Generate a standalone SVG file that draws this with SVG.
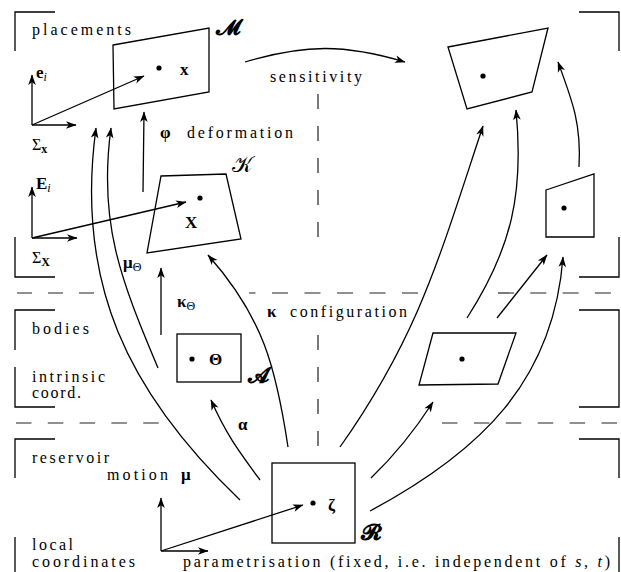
<svg xmlns="http://www.w3.org/2000/svg" width="621" height="572" viewBox="0 0 621 572">
<defs>
<marker id="ah" viewBox="-11 -4.5 12 9" markerWidth="12" markerHeight="9" refX="0" refY="0" orient="auto" markerUnits="userSpaceOnUse">
<path d="M0.5,0 L-10,-3.8 L-7.2,0 L-10,3.8 Z" fill="#000"/>
</marker>
</defs>
<style>
.ln{fill:none;stroke:#000;stroke-width:1.3}
.ar{fill:none;stroke:#000;stroke-width:1.3;marker-end:url(#ah)}
.box{fill:none;stroke:#000;stroke-width:1.3;stroke-linejoin:miter}
.fr{fill:none;stroke:#000;stroke-width:1.3}
.dash{fill:none;stroke:#222;stroke-width:1.2}
.t{font-family:"Liberation Serif","DejaVu Serif",serif;font-size:16px;fill:#000}
.m{font-family:"Liberation Serif","DejaVu Serif",serif;font-size:17px;font-weight:bold;fill:#000}
.cal{font-family:"DejaVu Serif","DejaVu Sans","Noto Sans",serif;font-size:22px;fill:#000}
.dot{fill:#000}
</style>
<rect width="621" height="572" fill="#fff"/>

<g id="frames">
<path class="fr" d="M55,12 H15 V51"/>
<path class="fr" d="M15,237 V277 H55"/>
<path class="fr" d="M55,310 H15 V350"/>
<path class="fr" d="M15,367 V407 H55"/>
<path class="fr" d="M55,439 H15 V478"/>
<path class="fr" d="M15,537 V572"/>
<path class="fr" d="M579,12 H619 V51"/>
<path class="fr" d="M619,237 V277 H579"/>
<path class="fr" d="M579,310 H619 V407 H579"/>
<path class="fr" d="M579,439 H619 V478"/>
<path class="fr" d="M619,537 V572"/>
</g>

<g id="separators">
<path class="dash" d="M318,94 V238" stroke-dasharray="15 17"/>
<path class="dash" d="M318,335 V447" stroke-dasharray="15 17"/>
<path class="dash" d="M17,293 H96" stroke-dasharray="15 16"/>
<path class="dash" d="M249,293 H418" stroke-dasharray="16 16.5" stroke-dashoffset="9.5"/>
<path class="dash" d="M498,293 H612" stroke-dasharray="16 16.3"/>
<path class="dash" d="M16,423 H160" stroke-dasharray="15.5 16.3"/>
<path class="dash" d="M442,423 H617" stroke-dasharray="15.5 16.4"/>
</g>

<g id="region-labels">
<text class="t" x="32" y="35" textLength="99" lengthAdjust="spacing">placements</text>
<text class="t" x="32" y="334" textLength="57" lengthAdjust="spacing">bodies</text>
<text class="t" x="32" y="382" textLength="73" lengthAdjust="spacing">intrinsic</text>
<text class="t" x="32" y="398" textLength="49" lengthAdjust="spacing">coord.</text>
<text class="t" x="32" y="463" textLength="77" lengthAdjust="spacing">reservoir</text>
<text class="t" x="32" y="550" textLength="41" lengthAdjust="spacing">local</text>
<text class="t" x="32" y="567" textLength="103" lengthAdjust="spacing">coordinates</text>
</g>

<g id="axes-x">
<path class="ar" d="M32,125 V75"/>
<path class="ar" d="M32,125 H76"/>
<text class="m" x="36" y="78">e<tspan font-weight="normal" font-style="italic" font-size="12" dy="3">i</tspan></text>
<text class="t" x="32" y="150" font-size="17">Σ<tspan font-weight="bold" font-size="12" dy="3">x</tspan></text>
</g>
<g id="axes-X">
<path class="ar" d="M32,238 V187"/>
<path class="ar" d="M32,238 H77"/>
<text class="m" x="36" y="189">E<tspan font-weight="normal" font-style="italic" font-size="12" dy="3">i</tspan></text>
<text class="t" x="32" y="263" font-size="17">Σ<tspan font-weight="bold" font-size="12" dy="3">X</tspan></text>
</g>
<g id="axes-local">
<path class="ar" d="M161,551 V498"/>
<path class="ar" d="M161,551 H208"/>
</g>

<g id="node-M">
<polygon class="box" points="113,45 209,28 209,92 114,109"/>
<circle class="dot" cx="159" cy="68" r="2.6"/>
<text class="m" x="180" y="75">x</text>
<text class="cal" x="216" y="35" font-weight="bold">𝓜</text>
</g>
<g id="node-M-right">
<polygon class="box" points="448,47 548,28 532,92 467,109"/>
<circle class="dot" cx="483" cy="76" r="2.6"/>
</g>
<g id="node-K">
<polygon class="box" points="161,176 226,174 241,239 147,253"/>
<circle class="dot" cx="200" cy="198" r="2.6"/>
<text class="m" x="185" y="228" font-size="18">X</text>
<text class="cal" x="232" y="172" font-size="20">𝒦</text>
</g>
<g id="node-K-right">
<polygon class="box" points="546,190 594,174 594,237 546,237"/>
<circle class="dot" cx="564" cy="208" r="2.6"/>
</g>
<g id="node-A">
<rect class="box" x="177" y="334" width="64" height="48"/>
<circle class="dot" cx="192" cy="359" r="2.6"/>
<text class="m" x="209" y="365">Θ</text>
<text class="cal" x="248" y="383" font-size="19" font-weight="bold">𝓐</text>
</g>
<g id="node-A-right">
<polygon class="box" points="433,333 516,333 498,384 419,385"/>
<circle class="dot" cx="462" cy="359" r="2.6"/>
</g>
<g id="node-R">
<rect class="box" x="272" y="463" width="83" height="80"/>
<circle class="dot" cx="313" cy="503" r="2.6"/>
<text class="m" x="328" y="511">ζ</text>
<text class="cal" x="361" y="540" font-weight="bold">𝓡</text>
</g>

<g id="connectors">
<path class="ar" d="M32,125 L144,76"/>
<path class="ar" d="M32,238 L186,202"/>
<path class="ar" d="M161,551 L303,505"/>
<path class="ar" d="M245,62 C305,44 345,44 405,62"/>
<path class="ar" d="M143,192 L144,112"/>
<path class="ar" d="M161,335 L161,268"/>
<path class="ar" d="M240,500 C127,392 75,282 96,128"/>
<path class="ar" d="M158,368 C121,280 98,223 111,128"/>
<path class="ar" d="M288,447 C276,367 263,317 208,255"/>
<path class="ar" d="M260,480 C238,450 226,434 211,400"/>
<path class="ar" d="M340,447 C419,335 439.5,256.6 483,126"/>
<path class="ar" d="M467,318 C512,248 524,193 516,110"/>
<path class="ar" d="M497,318 L547,255"/>
<path class="ar" d="M370,511 C480,452 553.6,381.6 563,257"/>
<path class="ar" d="M579,167 C581.5,125 572.7,101.5 558,62"/>
<path class="ar" d="M371,478 C395,455 415,430 433,402"/>
</g>

<g id="connector-labels">
<text class="t" x="270" y="82" textLength="92" lengthAdjust="spacing">sensitivity</text>
<text class="m" x="160" y="138">φ</text>
<text class="t" x="187" y="138" textLength="106" lengthAdjust="spacing">deformation</text>
<text class="m" x="123" y="268">μ<tspan font-weight="normal" font-size="12" dy="3">Θ</tspan></text>
<text class="m" x="177" y="307">κ<tspan font-weight="normal" font-size="12" dy="3">Θ</tspan></text>
<text class="m" x="267" y="317">κ</text>
<text class="t" x="290" y="317" textLength="117" lengthAdjust="spacing">configuration</text>
<text class="m" x="238" y="430">α</text>
<text class="t" x="107" y="480" textLength="61" lengthAdjust="spacing">motion</text>
<text class="m" x="181" y="480">μ</text>
<text class="t" x="183" y="567" textLength="427" lengthAdjust="spacing">parametrisation (fixed, i.e. independent of <tspan font-style="italic">s</tspan>, <tspan font-style="italic">t</tspan>)</text>
</g>
</svg>
